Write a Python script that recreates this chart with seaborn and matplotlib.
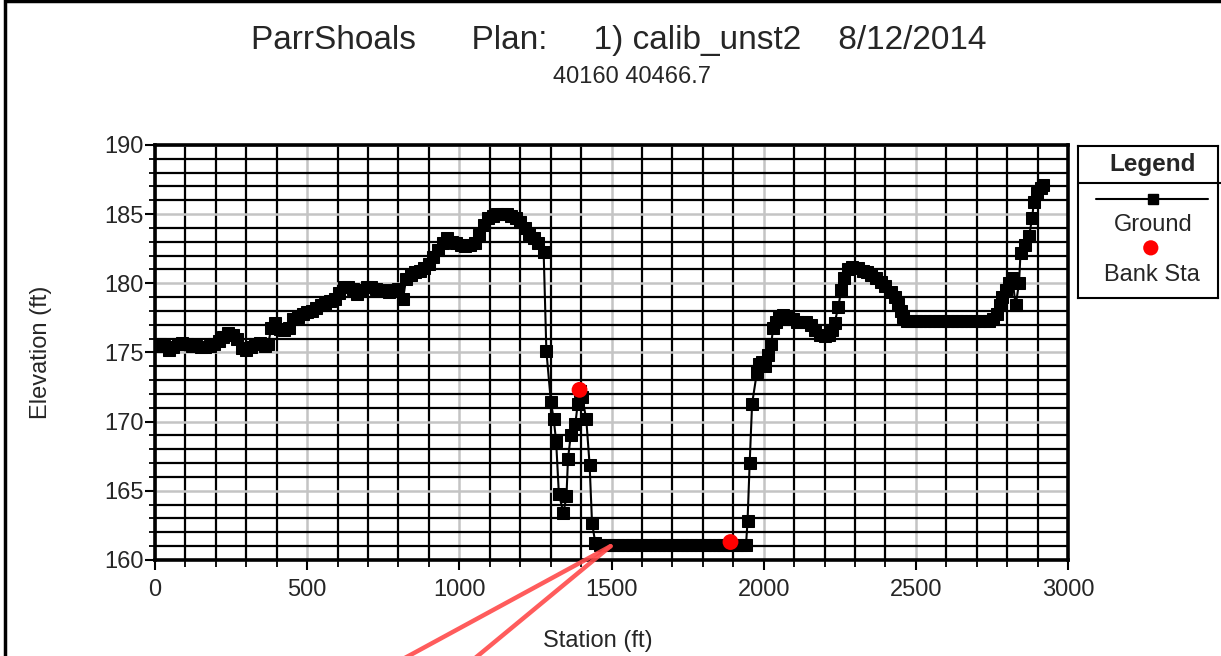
import matplotlib
matplotlib.use("Agg")
import matplotlib.pyplot as plt
from matplotlib.ticker import MultipleLocator
from matplotlib.patches import Rectangle
import seaborn as sns
import pandas as pd

# ---------------- data ----------------
station = [
    0, 15, 30, 45, 60, 75, 90, 105, 120, 135, 150, 165, 180, 195, 210, 225, 240, 255, 270, 285,
    300, 315, 330, 345, 360, 372, 382, 395, 410, 425, 440, 455, 470, 485, 500, 515, 530, 545, 560, 575,
    590, 605, 620, 635, 650, 665, 680, 695, 710, 725, 740, 755, 770, 785, 800, 815, 825, 840, 855, 870,
    885, 900, 915, 930, 945, 960, 975, 990, 1005, 1020, 1035, 1050, 1065, 1080, 1095, 1110, 1125, 1140, 1155, 1170,
    1185, 1200, 1215, 1230, 1245, 1260, 1277,
    1286, 1301, 1310, 1318, 1327, 1342, 1352, 1357, 1366, 1381, 1389, 1396, 1403, 1417, 1428, 1436,
    1447, 1462, 1477, 1492, 1507, 1522, 1537, 1552, 1567, 1582, 1597, 1612, 1627, 1642, 1657, 1672, 1687,
    1702, 1717, 1732, 1747, 1762, 1777, 1792, 1807, 1822, 1837, 1852, 1867, 1882, 1897, 1912, 1927, 1942,
    1947, 1954, 1962, 1978, 1985, 1995, 2005, 2015, 2025, 2031, 2040, 2050, 2065, 2080, 2095, 2110, 2125, 2140,
    2155, 2170, 2185, 2200, 2215, 2225, 2233, 2245, 2255, 2265, 2276, 2290, 2309, 2325, 2340, 2353, 2370, 2386,
    2400, 2418, 2430, 2440, 2450, 2457, 2470, 2485, 2500, 2515, 2530, 2545, 2560, 2575, 2590, 2605, 2620, 2635,
    2650, 2665, 2680, 2695, 2710, 2725, 2740, 2755, 2768, 2776, 2784, 2795, 2806, 2817, 2828, 2839, 2844, 2858,
    2872, 2882, 2888, 2899, 2910, 2918,
]
elevation = [
    175.5, 175.6, 175.5, 175.2, 175.4, 175.6, 175.7, 175.6, 175.5, 175.5, 175.4, 175.4, 175.5, 175.6, 175.8, 176.1, 176.4, 176.3, 176.0, 175.3,
    175.2, 175.4, 175.6, 175.7, 175.5, 175.6, 176.8, 177.1, 176.7, 176.6, 176.8, 177.4, 177.6, 177.8, 177.9, 178.0, 178.2, 178.4, 178.5, 178.7,
    178.9, 179.3, 179.7, 179.7, 179.6, 179.2, 179.5, 179.7, 179.7, 179.6, 179.5, 179.5, 179.4, 179.5, 179.6, 178.9, 180.3, 180.6, 180.8, 180.9,
    181.1, 181.4, 181.9, 182.4, 182.9, 183.3, 183.0, 182.9, 182.8, 182.7, 182.8, 182.9, 183.5, 184.2, 184.7, 184.9, 185.0, 185.0, 185.0, 184.9,
    184.7, 184.4, 184.0, 183.6, 183.3, 182.9, 182.3,
    175.1, 171.4, 170.2, 168.6, 164.8, 163.4, 164.6, 167.3, 169.0, 169.8, 171.3, 172.2, 171.8, 170.2, 166.9, 162.7,
    161.2, 161.1, 161.1, 161.1, 161.1, 161.1, 161.1, 161.1, 161.1, 161.1, 161.1, 161.1, 161.1, 161.1, 161.1, 161.1, 161.1,
    161.1, 161.1, 161.1, 161.1, 161.1, 161.1, 161.1, 161.1, 161.1, 161.1, 161.1, 161.1, 161.1, 161.1, 161.1, 161.1, 161.1,
    162.8, 167.0, 171.3, 173.6, 174.2, 174.3, 174.0, 174.8, 175.6, 176.8, 177.2, 177.6, 177.7, 177.6, 177.4, 177.2, 177.2, 177.2,
    177.0, 176.6, 176.3, 176.2, 176.3, 176.6, 177.1, 178.3, 179.5, 180.4, 181.0, 181.2, 181.1, 180.9, 180.8, 180.6, 180.4, 180.1,
    179.8, 179.4, 179.0, 178.5, 178.0, 177.6, 177.3, 177.3, 177.3, 177.3, 177.3, 177.3, 177.3, 177.3, 177.3, 177.3, 177.3, 177.3,
    177.3, 177.3, 177.3, 177.3, 177.3, 177.3, 177.3, 177.4, 177.8, 178.4, 179.0, 179.5, 180.0, 180.4, 178.4, 180.0, 182.2, 182.8,
    183.4, 184.7, 185.9, 186.5, 186.9, 187.1,
]
bank_station = [1395, 1891]
bank_elevation = [172.3, 161.3]

x_ticks = [0, 500, 1000, 1500, 2000, 2500, 3000]
y_ticks = [160, 165, 170, 175, 180, 185, 190]

title_text = "ParrShoals      Plan:     1) calib_unst2    8/12/2014"
subtitle_text = "40160 40466.7"

ground = pd.DataFrame({"Station": station, "Elevation": elevation})
banks = pd.DataFrame({"Station": bank_station, "Elevation": bank_elevation})

# ---------------- style ----------------
sns.set_style("white")
plt.rcParams["font.family"] = ["Liberation Sans", "DejaVu Sans"]

W, H = 1221, 656
fig = plt.figure(figsize=(W / 100, H / 100), dpi=100)
ax = fig.add_axes([155 / W, (H - 560) / H, (1068 - 155) / W, (560 - 145) / H])

sns.lineplot(data=ground, x="Station", y="Elevation", sort=False, estimator=None,
             color="black", marker="s", markersize=8, markeredgecolor="black",
             linewidth=1.5, ax=ax, zorder=3)
sns.scatterplot(data=banks, x="Station", y="Elevation", color="red", s=130,
                edgecolor="none", ax=ax, zorder=4)

ax.set_xlim(0, 3000)
ax.set_ylim(160, 190)
ax.set_xticks(x_ticks)
ax.set_yticks(y_ticks)
ax.xaxis.set_minor_locator(MultipleLocator(100))
ax.yaxis.set_minor_locator(MultipleLocator(1))
ax.grid(which="major", color="#c4c4c4", linewidth=1.8)
ax.grid(which="minor", color="black", linewidth=1.6)
ax.set_axisbelow(True)

ax.tick_params(axis="both", which="major", direction="out", width=1.5,
               labelsize=17, color="black", bottom=True, left=True)
ax.tick_params(axis="both", which="minor", direction="out", width=1.3,
               color="black", bottom=True, left=True)
ax.tick_params(axis="x", which="major", length=7.5, pad=6)
ax.tick_params(axis="x", which="minor", length=5)
ax.tick_params(axis="y", which="major", length=7, pad=1)
ax.tick_params(axis="y", which="minor", length=4)

for s in ax.spines.values():
    s.set_visible(True)
    s.set_color("black")
    s.set_linewidth(2.6)

ax.set_xlabel("Station (ft)", fontsize=17)
ax.set_ylabel("Elevation (ft)", fontsize=17)
ax.xaxis.set_label_coords(0.485, -0.168)
ax.yaxis.set_label_coords(-0.113, 0.5)

fig.text(619 / W, 1 - 40 / H, title_text, ha="center", va="center", fontsize=24)
fig.text(632 / W, 1 - 77 / H, subtitle_text, ha="center", va="center", fontsize=17)

# ---------------- legend box ----------------
lax = fig.add_axes([1078 / W, (H - 298) / H, 140 / W, 152 / H])
lax.set_xlim(0, 1)
lax.set_ylim(0, 1)
lax.set_xticks([])
lax.set_yticks([])
for s in lax.spines.values():
    s.set_visible(True)
    s.set_color("black")
    s.set_linewidth(1.5)
lax.plot([0, 1.02], [0.757, 0.757], color="black", lw=1.5, clip_on=False)
lax.text(0.535, 0.875, "Legend", ha="center", va="center", fontsize=17.5, fontweight="bold")
lax.plot([0.129, 0.929], [0.651, 0.651], color="black", lw=1.5)
lax.plot([0.536], [0.651], marker="s", color="black", markersize=7)
lax.text(0.535, 0.48, "Ground", ha="center", va="center", fontsize=17)
lax.scatter([0.52], [0.33], color="red", s=120, edgecolor="none")
lax.text(0.53, 0.151, "Bank Sta", ha="center", va="center", fontsize=17)

# ---------------- figure frame and annotation strokes ----------------
fig.add_artist(Rectangle((5 / W, -0.1), 1.2, 1.1 - 1.5 / H, transform=fig.transFigure,
                         fill=False, edgecolor="black", linewidth=2.5, clip_on=False))
for start in [(403, -3), (474, -3)]:
    ax.annotate("", xy=(1497, 161.0), xycoords="data", xytext=start,
                textcoords="figure pixels", annotation_clip=False,
                arrowprops=dict(arrowstyle="-", color="#ff4a4a", lw=3.2, alpha=0.9,
                                shrinkA=0, shrinkB=0))

fig.savefig("out.png", dpi=100)
